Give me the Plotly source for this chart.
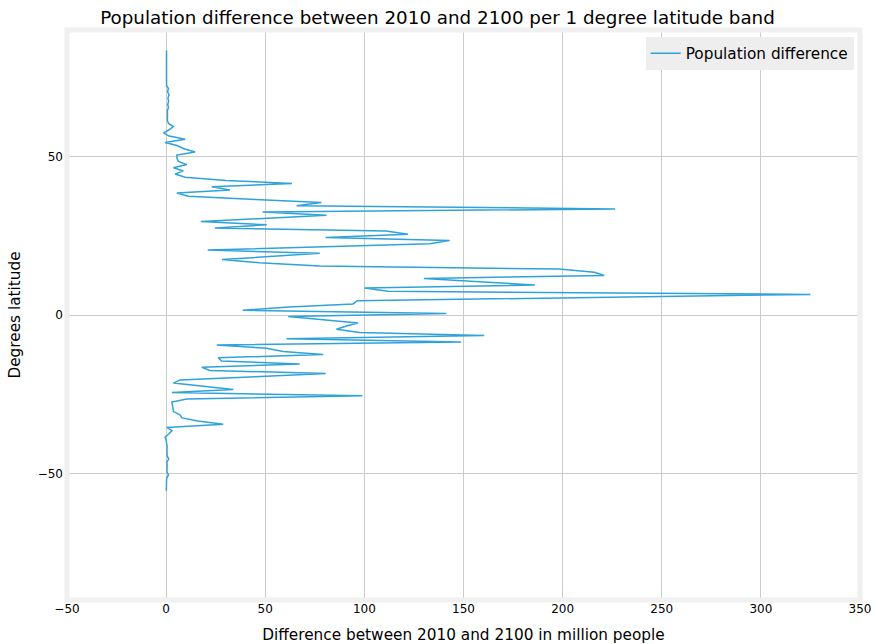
import plotly.graph_objects as go

# Latitude bands (band centres, north to south) and population difference (million people)
band_start = list(range(83, -57, -1))
latitudes = [k + 0.5 for k in band_start]

pop_difference = [
    # 83 .. 72
    0.2, 0.2, 0.2, 0.2, 0.2, 0.2, 0.2, 0.2, 0.2, 0.2, 0.2, 0.2,
    # 71 .. 63
    1.2, 0.7, 1.5, 0.9, 1.3, 0.8, 1.2, 0.6, 0.7,
    # 62 .. 53
    0.8, 0.6, 1.2, 3.7, 1.5, -1.3, 1.5, 9.6, -0.5, 5.4,
    # 52 .. 43
    9.0, 14.6, 5.4, 5.5, 6.2, 10.4, 3.7, 8.7, 4.5, 9.6,
    # 42 .. 33
    30.0, 63.5, 23.0, 32.2, 5.4, 11.2, 45.0, 78.3, 65.8, 226.5,
    # 32 .. 23
    48.7, 80.9, 49.0, 17.5, 50.7, 24.6, 111.0, 122.0, 80.4, 143.0,
    # 22 .. 13
    133.0, 78.0, 21.0, 77.5, 52.0, 28.2, 47.0, 77.5, 198.0, 216.0,
    # 12 .. 3
    221.0, 130.0, 158.0, 186.0, 100.0, 112.0, 325.0, 212.0, 96.4, 94.3,
    # 2 .. -7
    62.0, 38.6, 141.3, 61.6, 79.0, 96.8, 91.0, 85.9, 97.6, 160.5,
    # -8 .. -17
    60.7, 148.8, 25.5, 50.7, 59.0, 79.2, 26.3, 28.0, 67.4, 18.0,
    # -18 .. -27
    22.1, 80.5, 45.0, 7.0, 3.7, 19.0, 33.9, 2.9, 99.0, 10.4,
    # -28 .. -37
    2.9, 3.2, 3.5, 3.7, 7.0, 8.0, 16.0, 28.8, 0.3, 3.0,
    # -38 .. -47
    1.5, -0.5, 0.0, 0.3, 0.5, 0.4, 0.6, 0.5, 1.3, 0.4,
    # -48 .. -56
    0.5, 0.6, 0.4, 1.2, 0.3, 0.2, 0.2, 0.1, 0.1,
]

x_ticks = [-50, 0, 50, 100, 150, 200, 250, 300, 350]
x_tick_text = ["\u221250", "0", "50", "100", "150", "200", "250", "300", "350"]
y_ticks = [-50, 0, 50]
y_tick_text = ["\u221250", "0", "50"]

FONT = "DejaVu Sans"

fig = go.Figure()
fig.add_trace(go.Scatter(
    x=pop_difference, y=latitudes, mode="lines",
    name="Population difference",
    line=dict(color="#30a2da", width=1.5),
))

fig.update_layout(
    width=875, height=644,
    margin=dict(l=67, r=15, t=30, b=44),
    paper_bgcolor="white", plot_bgcolor="white",
    font=dict(family=FONT, color="black", size=12),
    title=dict(
        text="Population difference between 2010 and 2100 per 1 degree latitude band",
        x=0.5, xanchor="center", y=1 - 17.5 / 644, yanchor="middle",
        font=dict(family=FONT, size=18.3, color="black"),
    ),
    showlegend=True,
    legend=dict(
        x=0.992, y=0.988, xanchor="right", yanchor="top",
        bgcolor="#eeeeee", borderwidth=0,
        font=dict(family=FONT, size=15.3, color="black"),
    ),
)

fig.update_xaxes(
    range=[-50, 350], tickvals=x_ticks, ticktext=x_tick_text,
    showgrid=True, gridcolor="#cbcbcb", gridwidth=1,
    zeroline=False, showline=False, ticks="", automargin=False,
    tickfont=dict(family=FONT, size=12, color="black"),
    title=dict(text="Difference between 2010 and 2100 in million people",
               font=dict(family=FONT, size=15.3, color="black"), standoff=17),
)
fig.update_yaxes(
    range=[-90, 90], tickvals=y_ticks, ticktext=y_tick_text,
    showgrid=True, gridcolor="#cbcbcb", gridwidth=1,
    zeroline=False, showline=False, ticks="", automargin=False,
    ticklabelstandoff=3,
    tickfont=dict(family=FONT, size=12, color="black"),
    title=dict(text="Degrees latitude",
               font=dict(family=FONT, size=15.3, color="black"), standoff=13),
)

fig.add_shape(
    type="rect", xref="paper", yref="paper", x0=0, x1=1, y0=0, y1=1,
    line=dict(color="#f0f0f0", width=5), fillcolor="rgba(0,0,0,0)", layer="above",
)

fig.write_html(
    "out.html",
    config={"displayModeBar": False},
    post_script="document.body.style.margin='0';document.body.style.overflow='hidden';",
)
